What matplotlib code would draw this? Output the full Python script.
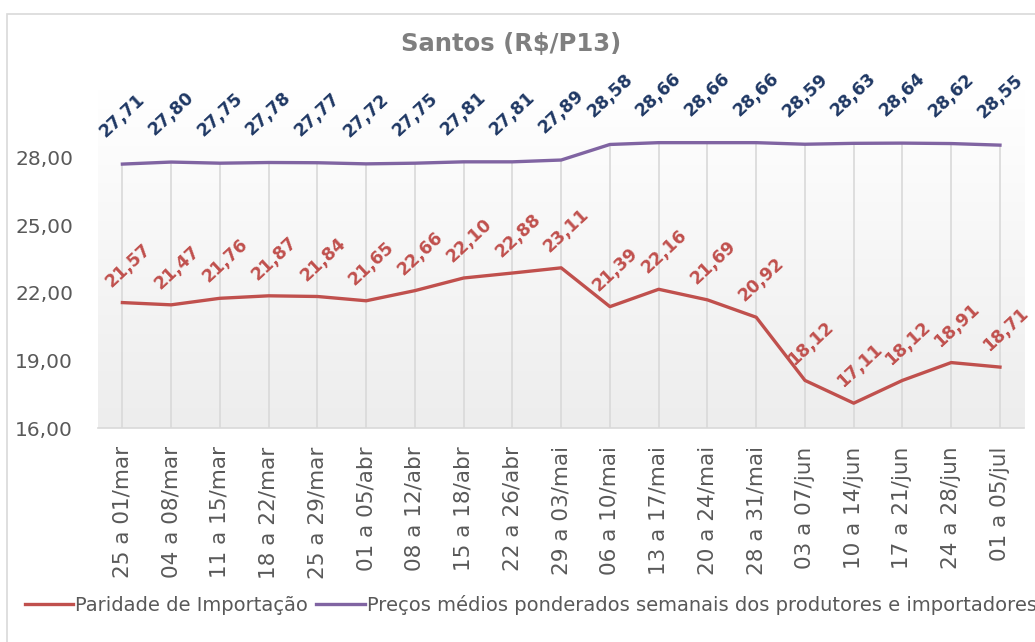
import numpy as np
import matplotlib
matplotlib.use("Agg")
import matplotlib.pyplot as plt
from matplotlib.patches import Rectangle
from matplotlib.lines import Line2D
from matplotlib.colors import LinearSegmentedColormap

semanas = ["25 a 01/mar", "04 a 08/mar", "11 a 15/mar", "18 a 22/mar", "25 a 29/mar",
           "01 a 05/abr", "08 a 12/abr", "15 a 18/abr", "22 a 26/abr", "29 a 03/mai",
           "06 a 10/mai", "13 a 17/mai", "20 a 24/mai", "28 a 31/mai", "03 a 07/jun",
           "10 a 14/jun", "17 a 21/jun", "24 a 28/jun", "01 a 05/jul"]
paridade = [21.57, 21.47, 21.76, 21.87, 21.84, 21.65, 22.10, 22.66, 22.88, 23.11,
            21.39, 22.16, 21.69, 20.92, 18.12, 17.11, 18.12, 18.91, 18.71]
# rótulos como aparecem no gráfico original (22,66 e 22,10 trocados)
rotulos_paridade = ["21,57", "21,47", "21,76", "21,87", "21,84", "21,65", "22,66", "22,10",
                    "22,88", "23,11", "21,39", "22,16", "21,69", "20,92", "18,12", "17,11",
                    "18,12", "18,91", "18,71"]
precos = [27.71, 27.80, 27.75, 27.78, 27.77, 27.72, 27.75, 27.81, 27.81, 27.89,
          28.58, 28.66, 28.66, 28.66, 28.59, 28.63, 28.64, 28.62, 28.55]
yticks = [16, 19, 22, 25, 28]

plt.rcParams["font.family"] = ["DejaVu Sans"]

vermelho = "#C0504D"
roxo = "#8064A2"
azul = "#1F3864"
cinza = "#595959"

n = len(semanas)
x = np.arange(n)

fig = plt.figure(figsize=(10.35, 6.42), dpi=100)
fig.patches.append(Rectangle((0.007, -0.05), 1.2, 1.028, transform=fig.transFigure,
                             fill=False, edgecolor="#D9D9D9", linewidth=1.2))

ax = fig.add_axes([0.0947, 0.333, 0.895, 0.527])
ax.set_xlim(-0.5, n - 0.5)
ax.set_ylim(16, 31)

# fundo em degradê
grad = np.linspace(0, 1, 256).reshape(-1, 1)
cmap = LinearSegmentedColormap.from_list("g", ["#EDEDED", "#FFFFFF"])
ax.imshow(grad, extent=(-0.5, n - 0.5, 16, 31), aspect="auto", cmap=cmap,
          origin="lower", zorder=0)

ax.vlines(x, 16, precos, colors="#D9D9D9", linewidth=1.2, zorder=1)
ax.plot(x, paridade, color=vermelho, linewidth=2.4, zorder=3)
ax.plot(x, precos, color=roxo, linewidth=2.4, zorder=3)

for xi, v in zip(x, precos):
    ax.annotate(f"{v:.2f}".replace(".", ","), (xi, v), xytext=(0, 35), textcoords="offset points",
                ha="center", va="center", rotation=43, color=azul, fontsize=12.5, fontweight="bold")
for xi, v, r in zip(x, paridade, rotulos_paridade):
    ax.annotate(r, (xi, v), xytext=(4, 27), textcoords="offset points",
                ha="center", va="center", rotation=43, color=vermelho, fontsize=12.5, fontweight="bold")

for s in ["top", "right", "left"]:
    ax.spines[s].set_visible(False)
ax.spines["bottom"].set_color("#D9D9D9")
ax.spines["bottom"].set_linewidth(1.2)

ax.set_yticks(yticks)
ax.set_yticklabels([f"{t:.2f}".replace(".", ",") for t in yticks], color=cinza, fontsize=14.5)
ax.set_xticks(x)
ax.set_xticklabels(semanas, rotation=90, color=cinza, fontsize=15.5)
ax.tick_params(axis="x", length=0, pad=13)
ax.tick_params(axis="y", length=0, pad=18)

fig.text(0.4935, 1 - 44 / 642, "Santos (R$/P13)", ha="center", va="center",
         color="#7F7F7F", fontsize=17.5, fontweight="bold")

handles = [Line2D([], [], color=vermelho, linewidth=2.4),
           Line2D([], [], color=roxo, linewidth=2.4)]
fig.legend(handles, ["Paridade de Importação",
                     "Preços médios ponderados semanais dos produtores e importadores"],
           loc="center left", bbox_to_anchor=(0.024, 1 - 605 / 642), ncol=2, frameon=False,
           handlelength=2.5, handletextpad=0.1, columnspacing=0.4, borderaxespad=0,
           borderpad=0, prop={"size": 14}, labelcolor=cinza)

fig.savefig("out.png", dpi=100)
